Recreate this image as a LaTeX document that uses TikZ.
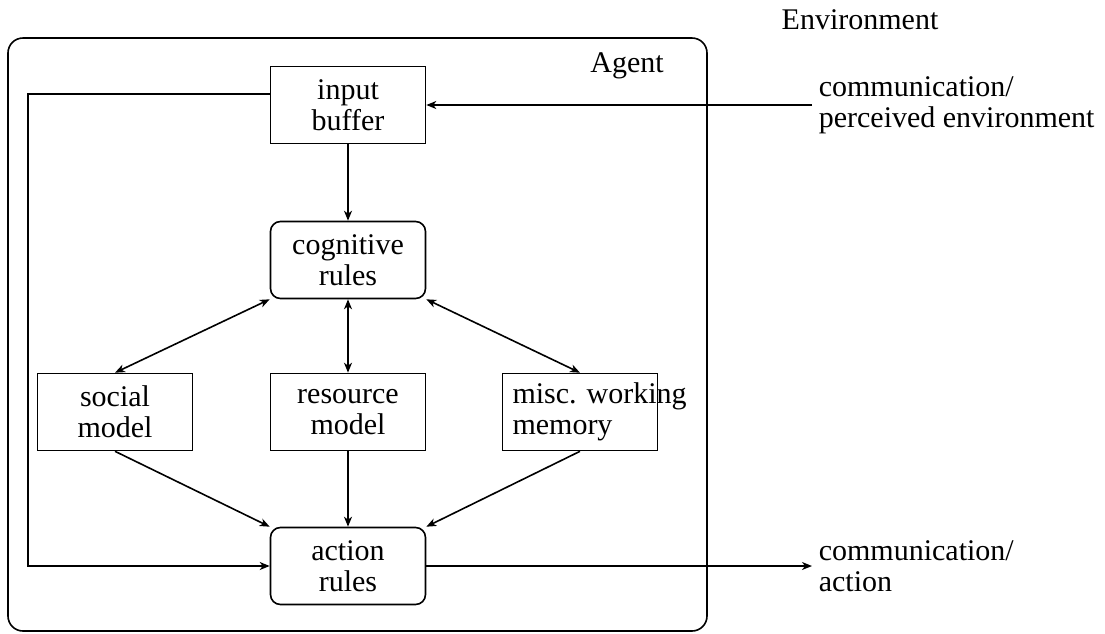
\documentclass[tikz,border=0pt]{standalone}
\usepackage{fontspec}
\setmainfont{Liberation Serif}
\usepackage{tikz}
\usetikzlibrary{arrows.meta,positioning}

\begin{document}
\begin{tikzpicture}[x=0.5pt, y=-0.5pt, >={Stealth[length=5pt,width=4pt,inset=1.5pt]}, line width=0.8pt,
  font=\fontsize{15}{15.5}\selectfont,
  block/.style={draw, minimum width=77.5pt, minimum height=38.5pt, align=center, inner sep=2pt},
  rulebox/.style={block, rounded corners=5pt},
  txt/.style={align=left, inner sep=3pt, anchor=west}]
\useasboundingbox (0,0) rectangle (1105,633);
\node[draw, rounded corners=7.5pt, minimum width=349.5pt, minimum height=296.5pt] (agent) at (357.5,334.5) {};
\node (agentname) at (627,66) {Agent};
\node (envname) at (860,20) {Environment};
\node[block] (inbuf) at (348,105) {input\\buffer};
\node[rulebox] (cogrules) at (348,260) {cognitive\\rules};
\node[block] (social) at (115,412) {social\\model};
\node[block] (resource) at (348,412) {resource\\model};
\node[block, text width=67.5pt, align=left, inner xsep=5pt] (misc) at (580,412) {\mbox{misc.\ working}\\memory};
\node[rulebox] (actrules) at (348,566) {action\\rules};
\node[txt] (envin) at (812,105) {communication/\\perceived environment};
\node[txt] (envout) at (812,566) {communication/\\action};
\coordinate (fb) at (28,94);
\draw[->] (inbuf) -- (cogrules);
\draw[<->] (social.north) -- (cogrules.south west);
\draw[<->] (cogrules) -- (resource);
\draw[<->] (cogrules.south east) -- (misc.north);
\draw[->] (social.south) -- (actrules.north west);
\draw[->] (resource) -- (actrules);
\draw[->] (misc.south) -- (actrules.north east);
\draw[->] (envin.west) -- (inbuf.east);
\draw[->] (actrules.east) -- (envout.west);
\draw[->] (inbuf.west |- fb) -- (fb) |- (actrules.west);
\end{tikzpicture}
\end{document}
